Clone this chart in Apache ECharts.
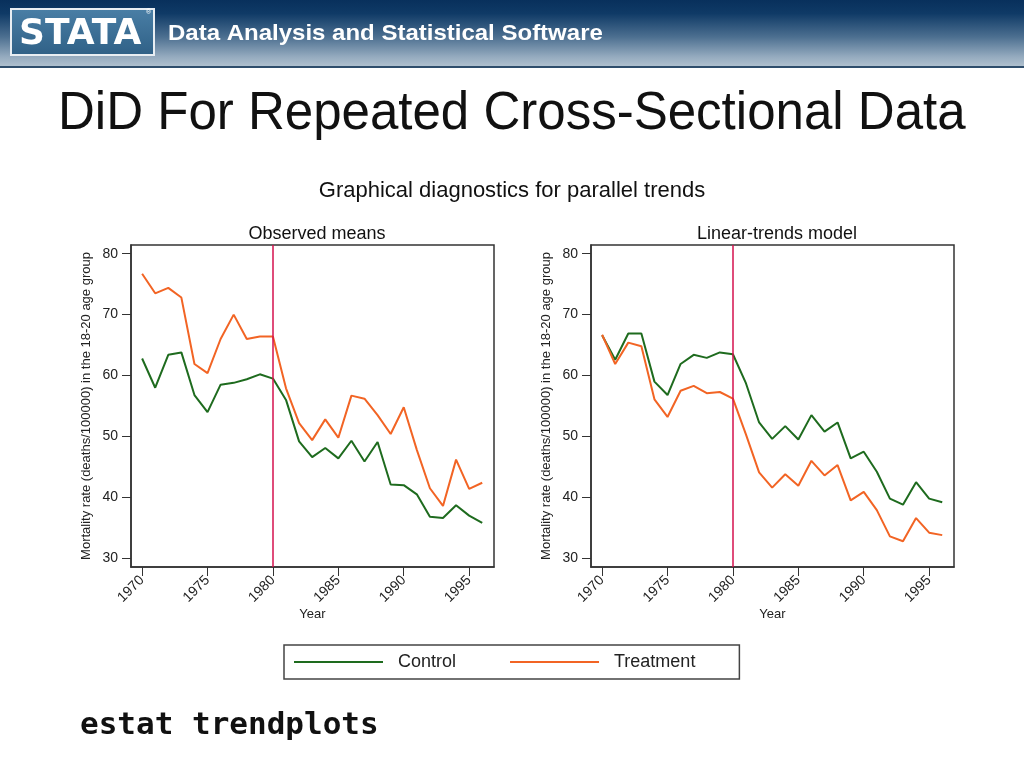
<!DOCTYPE html>
<html>
<head>
<meta charset="utf-8">
<style>
  html, body { margin: 0; padding: 0; background: #fff; }
  #chart { width: 1024px; height: 768px; }
</style>
<script src="https://cdn.jsdelivr.net/npm/echarts@6/dist/echarts.min.js"></script>
</head>
<body>
<div id="chart"></div>
<script>
// ---------- data ----------
const years = [1970,1971,1972,1973,1974,1975,1976,1977,1978,1979,1980,1981,1982,1983,1984,1985,1986,1987,1988,1989,1990,1991,1992,1993,1994,1995,1996];
const observedControl   = [62.8,58.0,63.4,63.8,56.8,54.0,58.5,58.8,59.4,60.2,59.5,56.0,49.2,46.6,48.1,46.4,49.3,45.9,49.1,42.1,42.0,40.5,36.8,36.6,38.7,37.0,35.8];
const observedTreatment = [76.7,73.5,74.4,72.8,61.9,60.4,66.0,70.0,66.0,66.4,66.4,57.9,52.2,49.4,52.8,49.8,56.7,56.2,53.5,50.4,54.8,47.8,41.5,38.6,46.2,41.4,42.4];
const linearControl     = [66.6,62.6,66.9,66.9,59.0,56.8,61.9,63.4,62.9,63.8,63.5,58.7,52.3,49.6,51.7,49.5,53.5,50.8,52.3,46.4,47.5,44.2,39.8,38.8,42.5,39.8,39.2];
const linearTreatment   = [66.7,61.9,65.4,64.8,56.1,53.2,57.5,58.3,57.1,57.3,56.2,50.3,44.1,41.6,43.8,41.9,46.0,43.6,45.3,39.5,40.9,37.9,33.6,32.8,36.6,34.2,33.8];
const xTicks = [1970,1975,1980,1985,1990,1995];
const yTicks = [30,40,50,60,70,80];
const treatmentYear = 1980;
const panelTitles = ['Observed means','Linear-trends model'];
const seriesNames = ['Control','Treatment'];

// ---------- styles ----------
const GREEN = '#1e6b1e';
const ORANGE = '#f26424';
const REDLINE = '#d4104e';
const FONT = '"Liberation Sans", Arial, sans-serif';

const chart = echarts.init(document.getElementById('chart'), null, {renderer: 'canvas'});

function pair(xs, ys) { return xs.map((x, i) => [x, ys[i]]); }

const grids = [
  {left: 131, top: 245, width: 363, height: 322},
  {left: 591, top: 245, width: 363, height: 322}
];

function xAxisFor(i) {
  return {
    gridIndex: i, type: 'value', min: 1969.15, max: 1996.9,
    name: 'Year', nameLocation: 'middle', nameGap: 40,
    nameTextStyle: {fontFamily: FONT, fontSize: 13, color: '#222'},
    axisLine: {show: true, lineStyle: {color: '#333', width: 1.5}},
    axisTick: {show: true, length: 9, customValues: xTicks, lineStyle: {color: '#333'}},
    axisLabel: {customValues: xTicks, rotate: 45, fontFamily: FONT, fontSize: 14, color: '#222', margin: 11,
                formatter: v => String(v)},
    splitLine: {show: false}
  };
}
function yAxisFor(i) {
  return {
    gridIndex: i, type: 'value', min: 28.57, max: 81.43,
    name: 'Mortality rate (deaths/100000) in the 18-20 age group',
    nameLocation: 'middle', nameGap: 38,
    nameTextStyle: {fontFamily: FONT, fontSize: 13, color: '#222'},
    axisLine: {show: true, lineStyle: {color: '#333', width: 1.5}},
    axisTick: {show: true, length: 9, customValues: yTicks, lineStyle: {color: '#333'}},
    axisLabel: {customValues: yTicks, fontFamily: FONT, fontSize: 14, color: '#222', margin: 13,
                formatter: v => String(v)},
    splitLine: {show: false}
  };
}
function lineSeries(name, color, data, idx, withMark) {
  const s = {
    name: name, type: 'line', xAxisIndex: idx, yAxisIndex: idx,
    data: data, showSymbol: false, symbol: 'none',
    lineStyle: {color: color, width: 2}, itemStyle: {color: color},
    animation: false, z: 3
  };
  if (withMark) {
    s.markLine = {
      silent: true, symbol: ['none','none'], label: {show: false},
      lineStyle: {color: REDLINE, width: 1.5, type: 'solid'},
      data: [{xAxis: treatmentYear}]
    };
  }
  return s;
}

const option = {
  backgroundColor: '#fff',
  animation: false,
  grid: grids.map(g => Object.assign({show: true, borderColor: '#333', borderWidth: 1.5, backgroundColor: '#fff'}, g)),
  xAxis: [xAxisFor(0), xAxisFor(1)],
  yAxis: [yAxisFor(0), yAxisFor(1)],
  title: [
    {text: 'Graphical diagnostics for parallel trends', left: 'center', top: 175,
     textStyle: {fontFamily: FONT, fontSize: 22, fontWeight: 'normal', color: '#111'}},
    {text: panelTitles[0], left: 312, textAlign: 'center', top: 220,
     textStyle: {fontFamily: FONT, fontSize: 18, fontWeight: 'normal', color: '#111'}},
    {text: panelTitles[1], left: 772, textAlign: 'center', top: 220,
     textStyle: {fontFamily: FONT, fontSize: 18, fontWeight: 'normal', color: '#111'}}
  ],
  legend: {
    data: seriesNames, left: 284, top: 645,
    orient: 'horizontal', itemWidth: 89, itemHeight: 2, itemGap: 54,
    icon: 'rect',
    padding: [8, 44, 8, 10],
    borderColor: '#444', borderWidth: 1.5,
    textStyle: {fontFamily: FONT, fontSize: 18, color: '#222', padding: [0, 0, 0, 10]}
  },
  series: [
    lineSeries(seriesNames[0], GREEN, pair(years, observedControl), 0, true),
    lineSeries(seriesNames[1], ORANGE, pair(years, observedTreatment), 0, false),
    lineSeries(seriesNames[0], GREEN, pair(years, linearControl), 1, true),
    lineSeries(seriesNames[1], ORANGE, pair(years, linearTreatment), 1, false)
  ],
  graphic: [
    // banner
    {type: 'rect', left: 0, top: 0, shape: {width: 1024, height: 67}, silent: true, z: -1,
     style: {fill: new echarts.graphic.LinearGradient(0, 0, 0, 1, [
       {offset: 0, color: '#08305c'}, {offset: 0.2, color: '#0f3a66'},
       {offset: 0.55, color: '#4c6f90'}, {offset: 0.85, color: '#95abbf'}, {offset: 1, color: '#b2c2d0'}])}},
    {type: 'rect', left: 0, top: 66, shape: {width: 1024, height: 2}, silent: true,
     style: {fill: '#2f4e6c'}},
    // logo
    {type: 'rect', left: 10, top: 8, shape: {width: 143, height: 46}, silent: true,
     style: {fill: new echarts.graphic.LinearGradient(0, 0, 0, 1, [
       {offset: 0, color: '#4a7fa6'}, {offset: 1, color: '#2f6086'}]), stroke: '#e8eef3', lineWidth: 2}},
    {type: 'text', left: 19, top: 17, silent: true,
     style: {text: 'STATA', fill: '#ffffff', font: 'bold 36px "DejaVu Sans", sans-serif'}},
    {type: 'text', left: 146, top: 9, silent: true,
     style: {text: '®', fill: '#ffffff', font: '7px sans-serif'}},
    {type: 'text', left: 168, top: 23, silent: true, scaleY: 0.92,
     style: {text: 'Data Analysis and Statistical Software', fill: '#ffffff',
             font: 'bold 24px "Liberation Sans", Arial, sans-serif',
             shadowColor: 'rgba(0,0,0,0.55)', shadowBlur: 3, shadowOffsetX: 1, shadowOffsetY: 2}},
    // slide title
    {type: 'text', left: 58, top: 87, silent: true, scaleX: 0.945,
     style: {text: 'DiD For Repeated Cross-Sectional Data', fill: '#111',
             font: '54px "Liberation Sans", Arial, sans-serif'}},
    // command
    {type: 'text', left: 80, top: 710, silent: true,
     style: {text: 'estat trendplots', fill: '#111',
             font: 'bold 31px "DejaVu Sans Mono", monospace'}}
  ]
};
chart.setOption(option);
</script>
</body>
</html>
